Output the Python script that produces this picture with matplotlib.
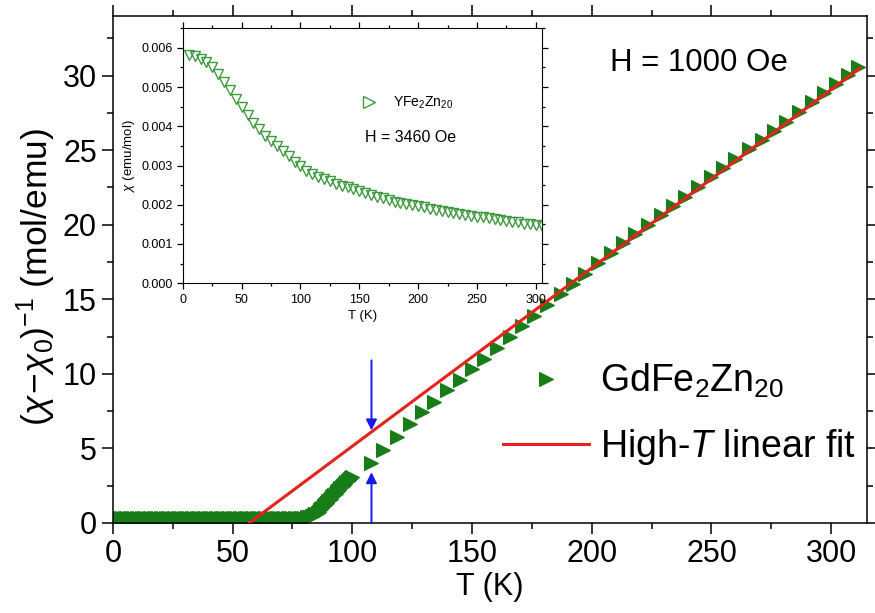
import matplotlib.pyplot as plt
from matplotlib.lines import Line2D
from matplotlib.ticker import MultipleLocator

plt.rcParams['font.family'] = ['Liberation Sans', 'DejaVu Sans']
plt.rcParams['mathtext.fontset'] = 'custom'
plt.rcParams['mathtext.rm'] = 'Liberation Sans'
plt.rcParams['mathtext.it'] = 'Liberation Sans:italic'

# GdFe2Zn20, H = 1000 Oe  -> (chi - chi0)^-1 vs T
# low-T part is measured very densely (solid band in the plot)
t_low = [1, 2, 3, 4, 5, 6, 7, 8, 9, 10, 11, 12, 13, 14, 15, 16, 17, 18, 19, 20,
         21, 22, 23, 24, 25, 26, 27, 28, 29, 30, 31, 32, 33, 34, 35, 36, 37, 38,
         39, 40, 41, 42, 43, 44, 45, 46, 47, 48, 49, 50, 51, 52, 53, 54, 55, 56,
         57, 58, 59, 60, 61, 62, 63, 64, 65, 66, 67, 68, 69, 70, 71, 72, 73, 74,
         75, 76, 77, 78, 79, 80, 81,
         82, 82.5, 83, 83.5, 84, 84.5, 85, 85.5, 86, 86.5, 87, 87.5, 88, 88.5,
         89, 89.5, 90, 90.5, 91, 91.5, 92, 92.5, 93, 93.5, 94, 94.5, 95, 95.5,
         96, 96.5, 97, 97.5, 98, 98.5, 99, 99.5, 100]
inv_low = [0.33, 0.33, 0.33, 0.33, 0.33, 0.33, 0.33, 0.33, 0.33, 0.33, 0.33,
           0.33, 0.33, 0.33, 0.33, 0.33, 0.33, 0.33, 0.33, 0.33, 0.33, 0.33,
           0.33, 0.33, 0.33, 0.33, 0.33, 0.33, 0.33, 0.33, 0.33, 0.33, 0.33,
           0.33, 0.33, 0.33, 0.33, 0.33, 0.33, 0.33, 0.33, 0.33, 0.33, 0.33,
           0.33, 0.33, 0.33, 0.33, 0.33, 0.33, 0.33, 0.33, 0.33, 0.33, 0.33,
           0.33, 0.33, 0.33, 0.33, 0.33, 0.33, 0.33, 0.33, 0.33, 0.33, 0.33,
           0.33, 0.33, 0.33, 0.33, 0.33, 0.33, 0.33, 0.33, 0.33, 0.34, 0.34,
           0.35, 0.35, 0.36, 0.37,
           0.40, 0.42, 0.45, 0.48, 0.52, 0.57, 0.62, 0.69, 0.76, 0.84, 0.92,
           1.01, 1.10, 1.19, 1.28, 1.36, 1.45, 1.53, 1.62, 1.71, 1.80, 1.88,
           1.97, 2.06, 2.15, 2.23, 2.32, 2.40, 2.48, 2.56, 2.64, 2.72, 2.80,
           2.88, 2.95, 3.03, 3.10]
t_high = [108, 113, 118.5, 124, 129, 134, 139.5, 145, 150, 155, 160.5, 166, 171,
          176, 181.5, 187, 192, 197, 202.5, 208, 213, 218, 223.5, 229, 234, 239,
          244.5, 250, 255, 260, 265.5, 271, 276, 281, 286.5, 292, 297, 302, 307,
          311]
inv_high = [4.0, 4.9, 5.76, 6.61, 7.41, 8.12, 8.9, 9.6, 10.3, 11.0, 11.72,
            12.47, 13.2, 13.9, 14.62, 15.35, 16.02, 16.7, 17.42, 18.12, 18.74,
            19.36, 20.01, 20.67, 21.27, 21.87, 22.53, 23.2, 23.8, 24.4, 25.06,
            25.71, 26.31, 26.91, 27.57, 28.23, 28.85, 29.45, 30.05, 30.6]

# high-T linear fit
fit_t = [57, 312]
fit_inv = [0.0, 30.5]

# blue arrows marking the deviation at ~108 K
arrow_t = 108
arrow_down = (10.9, 6.2)
arrow_up = (0.0, 3.4)

# YFe2Zn20 inset, H = 3460 Oe
t_y = [5, 10, 15, 20, 25, 30, 35, 40, 45, 50, 55, 60, 65, 70, 75, 80, 85, 90,
       95, 100, 105, 110, 115, 120, 125, 130, 135, 140, 145, 150, 155, 160,
       165, 170, 175, 180, 185, 190, 195, 200, 205, 210, 215, 220, 225, 230,
       235, 240, 245, 250, 255, 260, 265, 270, 275, 280, 285, 290, 295, 300, 305]
chi_y = [0.00582, 0.00578, 0.00572, 0.00563, 0.00550, 0.00533, 0.00513,
         0.00492, 0.00470, 0.00448, 0.00428, 0.00409, 0.00392, 0.00376,
         0.00362, 0.00349, 0.00336, 0.00323, 0.00310, 0.00298, 0.00286,
         0.00278, 0.00271, 0.00265, 0.00260, 0.00254, 0.00249, 0.00244,
         0.00239, 0.00234, 0.00229, 0.00224, 0.00220, 0.00216, 0.00212,
         0.00208, 0.00205, 0.00202, 0.00199, 0.00196, 0.00193, 0.00190,
         0.00187, 0.00185, 0.00182, 0.00180, 0.00177, 0.00175, 0.00172,
         0.00170, 0.00168, 0.00166, 0.00163, 0.00161, 0.00159, 0.00157,
         0.00155, 0.00152, 0.00150, 0.00148, 0.00146]

green = '#187d18'
green_in = '#3f9a3f'
red = '#e5221c'
blue = '#1a1ae8'

fig = plt.figure(figsize=(8.75, 6.13), dpi=100)
ax = fig.add_axes([0.129, 0.147, 0.862, 0.827])

ax.plot(t_low + t_high, inv_low + inv_high, ls='none', marker='>', ms=10,
        color=green, mew=0.8, label=r'GdFe$_2$Zn$_{20}$', zorder=2)
ax.plot(fit_t, fit_inv, color=red, lw=2.2, label=r'High-$T$ linear fit', zorder=3)

for y0, y1 in (arrow_down, arrow_up):
    ax.annotate('', xy=(arrow_t, y1), xytext=(arrow_t, y0),
                arrowprops=dict(arrowstyle='-|>', color=blue, lw=1.4,
                                mutation_scale=16, shrinkA=0, shrinkB=0))

ax.set_xlim(0, 315)
ax.set_ylim(0, 34)
ax.xaxis.set_major_locator(MultipleLocator(50))
ax.xaxis.set_minor_locator(MultipleLocator(25))
ax.yaxis.set_major_locator(MultipleLocator(5))
ax.yaxis.set_minor_locator(MultipleLocator(2.5))
ax.tick_params(which='both', direction='out', top=True, right=True,
               labelsize=22, width=1.1)
ax.tick_params(which='major', length=8)
ax.tick_params(which='minor', length=4.5)
for s in ax.spines.values():
    s.set_linewidth(1.1)

ax.set_xlabel('T (K)', fontsize=22, labelpad=2)
ax.set_ylabel(r'$(\chi\!-\!\chi_0)^{-1}$ (mol/emu)', fontsize=25.5)
ax.yaxis.set_label_coords(-0.073, 0.485)

ax.text(0.659, 0.907, 'H = 1000 Oe', transform=ax.transAxes, fontsize=22.5,
        va='center', ha='left')

ax.legend(loc='upper left', bbox_to_anchor=(0.517, 0.318), frameon=False,
          fontsize=27, borderpad=0, borderaxespad=0, handlelength=2.3,
          handletextpad=0.3, labelspacing=0.72, numpoints=1)

# inset
axi = fig.add_axes([0.209, 0.538, 0.410, 0.416])
axi.plot(t_y, chi_y, ls='none', marker='v', ms=7, mfc='none', mec=green_in,
         mew=1.0)
axi.set_xlim(0, 305)
axi.set_ylim(0, 0.0065)
axi.xaxis.set_major_locator(MultipleLocator(50))
axi.xaxis.set_minor_locator(MultipleLocator(25))
axi.yaxis.set_major_locator(MultipleLocator(0.001))
axi.yaxis.set_minor_locator(MultipleLocator(0.0005))
axi.yaxis.set_major_formatter(lambda v, p: f'{v:.3f}')
axi.tick_params(which='both', direction='out', top=True, right=True,
                labelsize=9, width=0.9)
axi.tick_params(which='major', length=4)
axi.tick_params(which='minor', length=2.5)
axi.set_xlabel('T (K)', fontsize=9.5, labelpad=3)
axi.set_ylabel(r'$\chi$ (emu/mol)', fontsize=9.5, labelpad=3)

proxy = Line2D([], [], ls='none', marker='>', ms=8, mfc='none', mec=green_in,
               mew=1.0)
axi.legend([proxy], [r'YFe$_2$Zn$_{20}$'], loc='center left',
           bbox_to_anchor=(0.49, 0.706), frameon=False, fontsize=10,
           borderpad=0, borderaxespad=0, handlelength=1.5, handletextpad=1.0)
axi.text(0.507, 0.573, 'H = 3460 Oe', transform=axi.transAxes, fontsize=11.5,
         va='center', ha='left')

fig.savefig('out.png', dpi=100)
